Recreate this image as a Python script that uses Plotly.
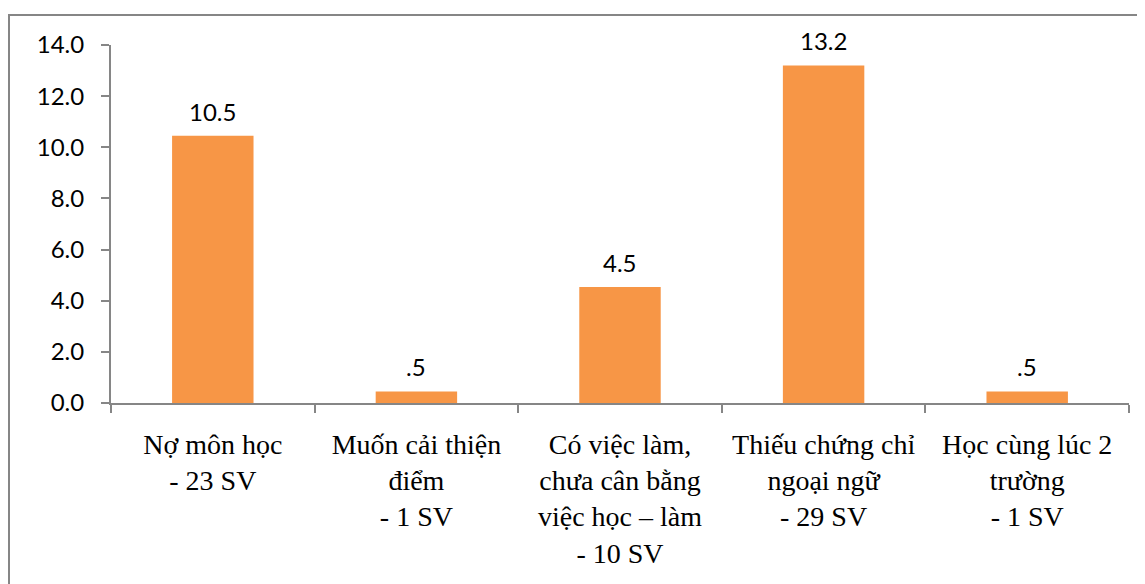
import plotly.graph_objects as go

categories = ["Nợ môn học", "Muốn cải thiện điểm", "Có việc làm, chưa cân bằng việc học – làm",
              "Thiếu chứng chỉ ngoại ngữ", "Học cùng lúc 2 trường"]
tick_labels = ["Nợ môn học<br>- 23 SV", "Muốn cải thiện<br>điểm<br>- 1 SV",
               "Có việc làm,<br>chưa cân bằng<br>việc học – làm<br>- 10 SV",
               "Thiếu chứng chỉ<br>ngoại ngữ<br>- 29 SV", "Học cùng lúc 2<br>trường<br>- 1 SV"]
values = [10.45, 0.45, 4.54, 13.2, 0.45]
value_labels = ["10.5", ".5", "4.5", "13.2", ".5"]
y_ticks = [0, 2, 4, 6, 8, 10, 12, 14]
y_tick_labels = ["0.0", "2.0", "4.0", "6.0", "8.0", "10.0", "12.0", "14.0"]

GRAY = "#868686"
ORANGE = "#F79646"
NUM_FONT = dict(family="Lato", size=24, color="black")

fig = go.Figure()
fig.add_trace(go.Bar(x=categories, y=values, marker=dict(color=ORANGE, line=dict(width=0)),
                     width=0.4, hoverinfo="skip"))

for c, v, t in zip(categories, values, value_labels):
    fig.add_annotation(x=c, y=v, text=t, showarrow=False, yanchor="bottom", yshift=8,
                       font=NUM_FONT, xref="x", yref="y")

fig.update_layout(
    width=1137, height=576, autosize=False,
    margin=dict(l=103, r=16, t=37, b=181),
    paper_bgcolor="white", plot_bgcolor="white",
    showlegend=False,
    xaxis=dict(type="category", categoryorder="array", categoryarray=categories,
               tickmode="array", tickvals=categories, ticktext=tick_labels,
               tickson="boundaries", ticks="outside", ticklen=8, tickcolor=GRAY, tickwidth=2,
               showline=True, linecolor=GRAY, linewidth=2, showgrid=False, zeroline=False,
               tickfont=dict(family="Liberation Serif", size=28, color="black"),
               ticklabelstandoff=15, range=[-0.5, 4.5]),
    yaxis=dict(range=[0, 14], tickmode="array", tickvals=y_ticks, ticktext=y_tick_labels,
               ticks="outside", ticklen=8, tickcolor=GRAY, tickwidth=2,
               showline=True, linecolor=GRAY, linewidth=2, showgrid=False, zeroline=False,
               tickfont=NUM_FONT, ticklabelstandoff=12),
    shapes=[dict(type="rect", xref="paper", yref="paper", x0=-0.1002, x1=1.03, y0=-0.55, y1=1.0838,
                 line=dict(color=GRAY, width=2), fillcolor="rgba(0,0,0,0)", layer="below")],
)

fig.write_html("out.html")
